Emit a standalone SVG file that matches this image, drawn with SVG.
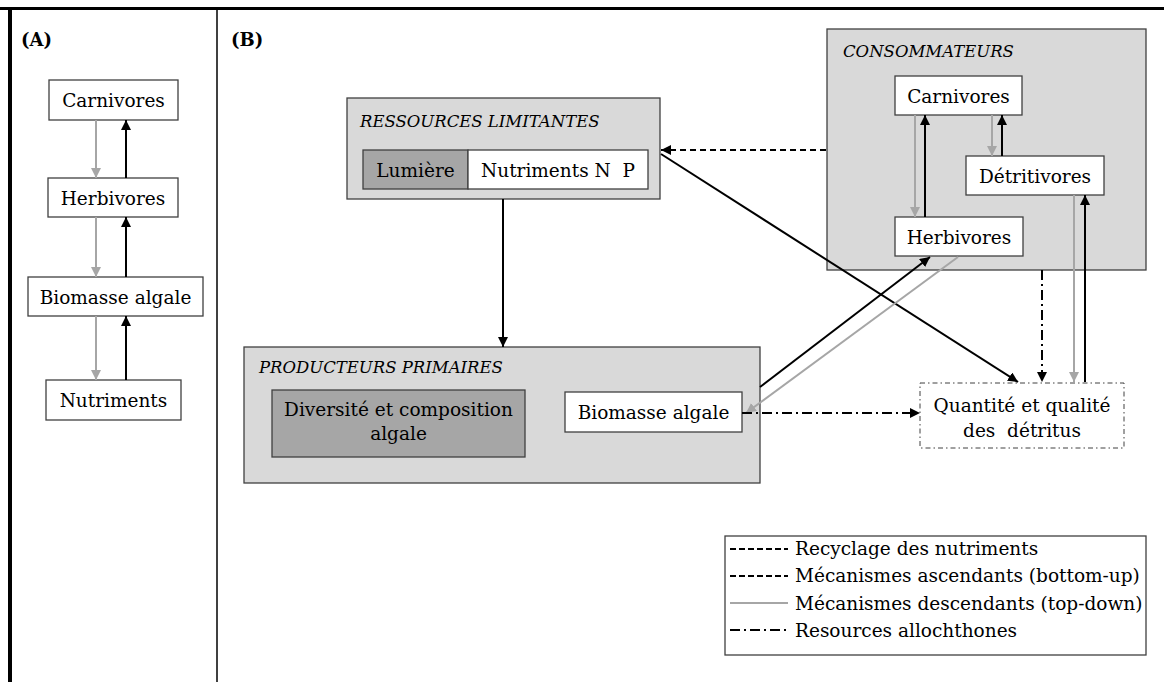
<svg xmlns="http://www.w3.org/2000/svg" width="1164" height="682" viewBox="0 0 1164 682">
<defs>
<marker id="ab" viewBox="0 0 10 10" refX="10" refY="5" markerWidth="10" markerHeight="10" markerUnits="userSpaceOnUse" orient="auto"><path d="M0,0 L10,5 L0,10 Z" fill="#000"/></marker>
<marker id="ag" viewBox="0 0 10 10" refX="10" refY="5" markerWidth="10" markerHeight="10" markerUnits="userSpaceOnUse" orient="auto"><path d="M0,0 L10,5 L0,10 Z" fill="#a6a6a6"/></marker>
<style>
text{font-family:"DejaVu Serif","Liberation Serif",serif;font-size:18.5px;fill:#000;white-space:pre}
.c{text-anchor:middle}
.t{font-style:italic;font-size:16.5px}
.b{font-weight:bold;font-size:18px}
.grp{fill:#d9d9d9;stroke:#404040;stroke-width:1.3}
.w{fill:#fff;stroke:#404040;stroke-width:1.3}
.d{fill:#a6a6a6;stroke:#404040;stroke-width:1.3}
.k{stroke:#000;stroke-width:2;fill:none;marker-end:url(#ab)}
.g{stroke:#a6a6a6;stroke-width:2;fill:none;marker-end:url(#ag)}
.dash{stroke-dasharray:6 4}
.dd{stroke-dasharray:10 4 2 4}
</style>
</defs>
<g id="frame">
<line x1="0" y1="8.5" x2="1164" y2="8.5" stroke="#000" stroke-width="3"/>
<line x1="10" y1="8" x2="10" y2="682" stroke="#000" stroke-width="4"/>
<line x1="217" y1="8" x2="217" y2="682" stroke="#000" stroke-width="1.5"/>
<text x="21" y="46" class="b">(A)</text>
<text x="231" y="46" class="b">(B)</text>
</g>
<g id="panelA">
<g id="a-carnivores"><rect x="49" y="80" width="129" height="40" class="w"/><text x="113.5" y="107" class="c">Carnivores</text></g>
<g id="a-herbivores"><rect x="48" y="178" width="130" height="39" class="w"/><text x="113" y="204.5" class="c">Herbivores</text></g>
<g id="a-biomasse"><rect x="28" y="277" width="175" height="39" class="w"/><text x="115.5" y="303.5" class="c">Biomasse algale</text></g>
<g id="a-nutriments"><rect x="46" y="380" width="135" height="40" class="w"/><text x="113.5" y="407" class="c">Nutriments</text></g>
</g>
<g id="ressources">
<rect x="347" y="98" width="313" height="101" class="grp"/>
<text x="360" y="127" class="t">RESSOURCES LIMITANTES</text>
<rect x="363" y="150" width="105" height="39" class="d"/><text x="415.5" y="176.5" class="c">Lumière</text>
<rect x="468" y="150" width="180" height="39" class="w"/><text x="558" y="176.5" class="c">Nutriments N  P</text>
</g>
<g id="consommateurs">
<rect x="827" y="29" width="319" height="241" class="grp"/>
<text x="843" y="57" class="t">CONSOMMATEURS</text>
<g id="b-carnivores"><rect x="895" y="76" width="127" height="39" class="w"/><text x="958.5" y="102.5" class="c">Carnivores</text></g>
<g id="b-detritivores"><rect x="966" y="156" width="138" height="39" class="w"/><text x="1035" y="182.5" class="c">Détritivores</text></g>
<g id="b-herbivores"><rect x="895" y="217" width="128" height="39" class="w"/><text x="959" y="243.5" class="c">Herbivores</text></g>
</g>
<g id="producteurs">
<rect x="244" y="347" width="516" height="136" class="grp"/>
<text x="259" y="373" class="t">PRODUCTEURS PRIMAIRES</text>
<g id="diversite"><rect x="272" y="390" width="253" height="67" class="d"/><text x="398.5" y="416" class="c">Diversité et composition</text><text x="398.5" y="440" class="c">algale</text></g>
<g id="b-biomasse"><rect x="565" y="392" width="177" height="40" class="w"/><text x="653.5" y="418.5" class="c">Biomasse algale</text></g>
</g>
<g id="detritus">
<rect x="920" y="383" width="204" height="65" fill="#fff" stroke="#404040" stroke-width="1" stroke-dasharray="5 3 1.5 3"/>
<text x="1022" y="412" class="c">Quantité et qualité</text>
<text x="1022" y="437" class="c">des  détritus</text>
</g>
<g id="connectors">
<line x1="96" y1="120" x2="96" y2="178" class="g"/>
<line x1="126" y1="178" x2="126" y2="120" class="k"/>
<line x1="96" y1="217" x2="96" y2="277" class="g"/>
<line x1="126" y1="277" x2="126" y2="217" class="k"/>
<line x1="96" y1="316" x2="96" y2="380" class="g"/>
<line x1="126" y1="380" x2="126" y2="316" class="k"/>
<line x1="826" y1="150" x2="661" y2="150" class="k dash"/>
<line x1="503" y1="199" x2="503" y2="347" class="k"/>
<line x1="661" y1="154" x2="1018" y2="382" class="k"/>
<line x1="760" y1="387" x2="930" y2="257" class="k"/>
<line x1="958" y1="257" x2="746" y2="413" class="g"/>
<line x1="742" y1="413" x2="920" y2="413" class="k dd"/>
<line x1="1042" y1="270" x2="1042" y2="382" class="k dd"/>
<line x1="1074" y1="195" x2="1074" y2="382" class="g"/>
<line x1="1085" y1="382" x2="1085" y2="195" class="k"/>
<line x1="915" y1="115" x2="915" y2="217" class="g"/>
<line x1="925" y1="217" x2="925" y2="115" class="k"/>
<line x1="992" y1="115" x2="992" y2="156" class="g"/>
<line x1="1002" y1="156" x2="1002" y2="115" class="k"/>
</g>
<g id="legend">
<rect x="725" y="536" width="421" height="119" fill="#fff" stroke="#404040" stroke-width="1.3"/>
<line x1="730" y1="549" x2="788" y2="549" stroke="#000" stroke-width="2" stroke-dasharray="6 3"/>
<text x="795" y="555">Recyclage des nutriments</text>
<line x1="730" y1="576" x2="788" y2="576" stroke="#000" stroke-width="2" stroke-dasharray="6 3"/>
<text x="795" y="582">Mécanismes ascendants (bottom-up)</text>
<line x1="730" y1="603" x2="788" y2="603" stroke="#a6a6a6" stroke-width="2"/>
<text x="795" y="610">Mécanismes descendants (top-down)</text>
<line x1="730" y1="630" x2="788" y2="630" stroke="#000" stroke-width="2" stroke-dasharray="10 4 2 4"/>
<text x="795" y="637">Resources allochthones</text>
</g>
</svg>
